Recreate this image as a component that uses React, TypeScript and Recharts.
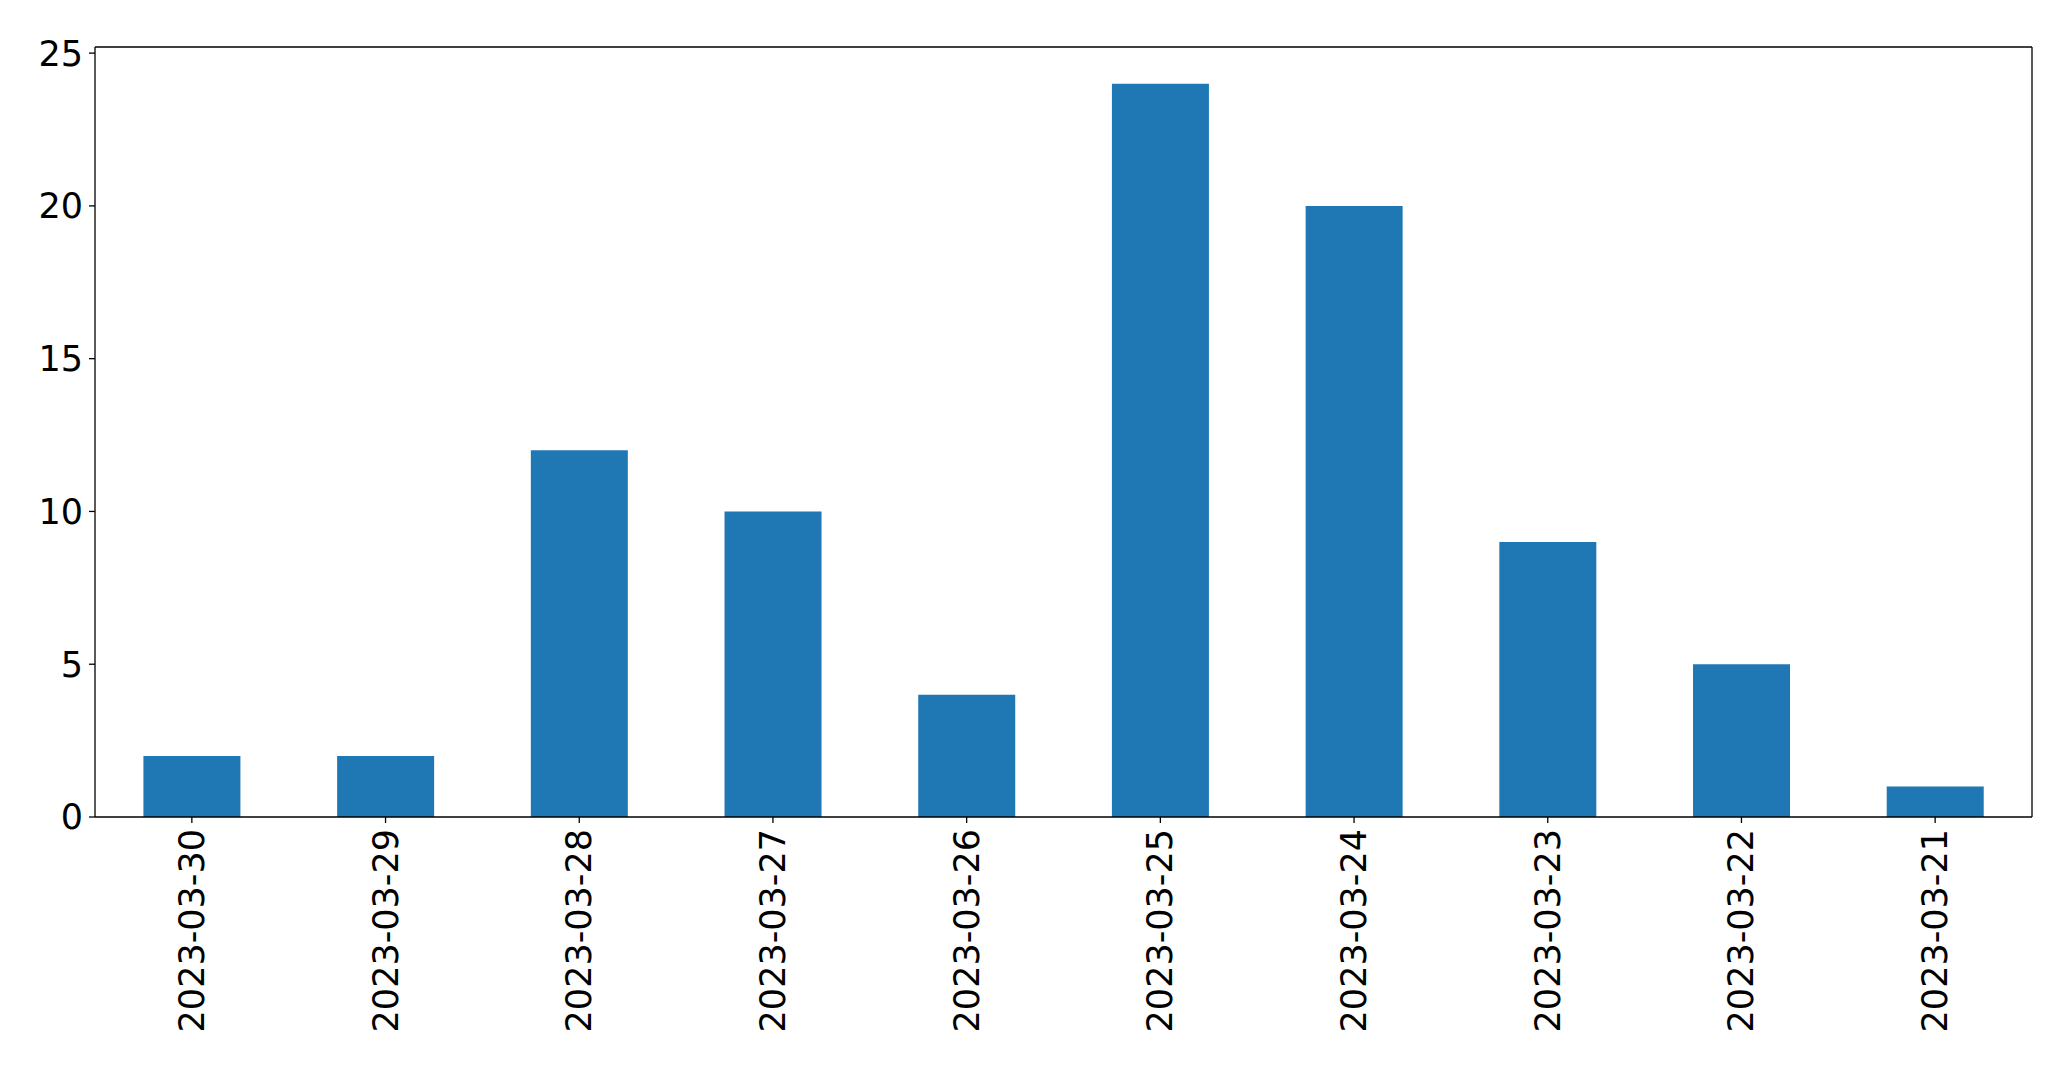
import React from 'react';
import { BarChart, Bar, XAxis, YAxis } from 'recharts';

const categories = ['2023-03-30', '2023-03-29', '2023-03-28', '2023-03-27', '2023-03-26', '2023-03-25', '2023-03-24', '2023-03-23', '2023-03-22', '2023-03-21'];
const counts = [2, 2, 12, 10, 4, 24, 20, 9, 5, 1];
const yTicks = [0, 5, 10, 15, 20, 25];

const data = categories.map((c, i) => ({ date: c, count: counts[i] }));

const FONT = 'DejaVu Sans';
const FS = 35;

const XTick = (props: any) => {
  const { x, y, payload } = props;
  return (
    <g transform={`translate(${x},${y + 6}) rotate(-90)`}>
      <text x={0} y={0} textAnchor="end" dominantBaseline="central" fontFamily={FONT} fontSize={FS} fill="#000">
        {payload.value}
      </text>
    </g>
  );
};

export default function App() {
  return (
    <div style={{ position: 'absolute', left: 0, top: 0, width: 2071, height: 1069, background: '#fff' }}>
      <BarChart
        width={2071}
        height={1069}
        data={data}
        margin={{ top: 46, right: 38, left: 0, bottom: 0 }}
        barCategoryGap="25%"
      >
        <XAxis
          dataKey="date"
          height={252}
          interval={0}
          tickSize={6}
          tickMargin={0}
          axisLine={{ stroke: '#000', strokeWidth: 1.3 }}
          tickLine={{ stroke: '#000', strokeWidth: 1.3 }}
          tick={<XTick />}
        />
        <XAxis
          xAxisId="top"
          dataKey="date"
          orientation="top"
          height={1}
          tick={false}
          tickLine={false}
          axisLine={{ stroke: '#000', strokeWidth: 1.3 }}
        />
        <YAxis
          type="number"
          domain={[0, 25.2]}
          ticks={yTicks}
          width={95}
          tickSize={6}
          tickMargin={6}
          axisLine={{ stroke: '#000', strokeWidth: 1.3 }}
          tickLine={{ stroke: '#000', strokeWidth: 1.3 }}
          tick={{ fill: '#000', fontSize: FS, fontFamily: FONT }}
        />
        <YAxis
          yAxisId="right"
          orientation="right"
          type="number"
          domain={[0, 25.2]}
          width={1}
          tick={false}
          tickLine={false}
          axisLine={{ stroke: '#000', strokeWidth: 1.3 }}
        />
        <Bar dataKey="count" fill="#1f77b4" isAnimationActive={false} />
      </BarChart>
    </div>
  );
}
